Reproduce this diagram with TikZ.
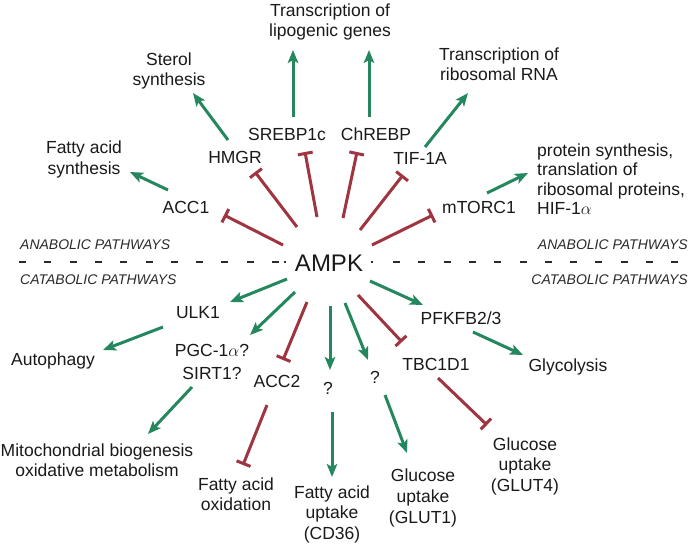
\documentclass[tikz,border=0pt]{standalone}
\usepackage{fontspec}
\setmainfont{Liberation Sans}
\usetikzlibrary{arrows.meta,calc}
\definecolor{grn}{HTML}{24875D}
\definecolor{rd}{HTML}{9E3540}
\definecolor{txt}{HTML}{1A1A1A}
\definecolor{dsh}{HTML}{2A2A2A}
\begin{document}
\begin{tikzpicture}[x=1pt,y=-1pt,
  lbl/.style={text=txt, font=\fontsize{17.5}{20.5}\selectfont, inner sep=0pt, align=center},
  lblw/.style={text=txt, inner sep=0pt, align=center, font=\fontsize{17.5}{21}\selectfont},
  big/.style={text=txt, font=\fontsize{24}{28}\selectfont, inner sep=0pt},
  pway/.style={text=dsh, font=\fontsize{14}{16}\selectfont\itshape, inner sep=0pt},
  act/.style={draw=grn, line width=3pt, -{Stealth[length=13pt,width=10.5pt,inset=3pt]}},
  inh/.style={draw=rd, line width=3pt, -{Bar[width=15pt]}},
  dashline/.style={draw=dsh, line width=1.8pt, dash pattern=on 7pt off 18.3pt}]
\fill[white] (0,0) rectangle (690,544);
\useasboundingbox (0,0) rectangle (690,544);

% central node
\node[big] (AMPK) at (329,263) {AMPK};

% separators
\draw[dashline] (19,262) -- (280,262);
\draw[draw=dsh, line width=1.8pt] (284,262) -- (286,262);
\draw[draw=dsh, line width=1.8pt] (371,262) -- (373,262);
\draw[dashline] (393,262) -- (682,262);
\node[pway, anchor=west] (anaL) at (20,245) {ANABOLIC PATHWAYS};
\node[pway, anchor=east] (anaR) at (688,245) {ANABOLIC PATHWAYS};
\node[pway, anchor=west] (catL) at (20,280) {CATABOLIC PATHWAYS};
\node[pway, anchor=east] (catR) at (688,280) {CATABOLIC PATHWAYS};

% anabolic targets
\node[lbl] (ACC1) at (186,207) {ACC1};
\node[lbl] (HMGR) at (235,157) {HMGR};
\node[lbl] (SREBP) at (287,134) {SREBP1c};
\node[lbl] (ChREBP) at (376,134) {ChREBP};
\node[lbl] (TIF) at (420,158) {TIF-1A};
\node[lbl] (mTORC) at (479,207) {mTORC1};

\node[lbl] (fas) at (84,159.3) {Fatty acid\\synthesis};
\node[lbl] (sterol) at (169,70.8) {Sterol\\synthesis};
\node[lbl] (lipo) at (330,21.8) {Transcription of\\lipogenic genes};
\node[lbl] (rRNA) at (499,64) {Transcription of\\ribosomal RNA};
\node[lbl, align=left, anchor=west, font=\fontsize{17.5}{19.5}\selectfont] (prot) at (537,179)
  {protein synthesis,\\translation of\\ribosomal proteins,\\HIF-1$\alpha$};

% catabolic targets
\node[lbl] (ULK1) at (198,313) {ULK1};
\node[lbl] (auto) at (53,361) {Autophagy};
\node[lbl, font=\fontsize{17.5}{23.5}\selectfont] (PGC) at (212,362) {PGC-1$\alpha$?\\SIRT1?};
\node[lbl] (ACC2) at (277,381) {ACC2};
\node[lbl] (q1) at (328,388) {?};
\node[lbl] (q2) at (375,377) {?};
\node[lbl] (PFK) at (461,318) {PFKFB2/3};
\node[lbl] (TBC) at (436,364) {TBC1D1};
\node[lbl] (gly) at (568,367) {Glycolysis};
\node[lbl, font=\fontsize{17.5}{20}\selectfont] (mito) at (97,460) {Mitochondrial biogenesis\\oxidative metabolism};
\node[lbl, font=\fontsize{17.5}{20}\selectfont] (faox) at (236,494) {Fatty acid\\oxidation};
\node[lbl] (fau) at (332,514.3) {Fatty acid\\uptake\\(CD36)};
\node[lblw] (glut1) at (423,498.3) {Glucose\\uptake\\(GLUT1)};
\node[lbl] (glut4) at (525,466.3) {Glucose\\uptake\\(GLUT4)};

% AMPK inhibitions (anabolic)
\draw[inh] ([shift={(-46,-18)}]AMPK.center) -- ([shift={(38,8)}]ACC1.center);
\draw[inh] ([shift={(-32,-36)}]AMPK.center) -- ([shift={(20,15)}]HMGR.center);
\draw[inh] ([shift={(-12,-46)}]AMPK.center) -- ([shift={(18,18)}]SREBP.center);
\draw[inh] ([shift={(14,-45)}]AMPK.center) -- ([shift={(-19,18)}]ChREBP.center);
\draw[inh] ([shift={(31,-33)}]AMPK.center) -- ([shift={(-17,17)}]TIF.center);
\draw[inh] ([shift={(43,-18)}]AMPK.center) -- ([shift={(-46,8)}]mTORC.center);

% anabolic outputs
\draw[act] ([shift={(-18,-17)}]ACC1.center) -- ([shift={(46,12.7)}]fas.center);
\draw[act] ([shift={(-7,-17)}]HMGR.center) -- ([shift={(24,22.2)}]sterol.center);
\draw[act] ([shift={(6,-17)}]SREBP.center) -- ([shift={(-37,28.2)}]lipo.center);
\draw[act] ([shift={(-7,-17)}]ChREBP.center) -- ([shift={(39,28.2)}]lipo.center);
\draw[act] ([shift={(5,-11)}]TIF.center) -- ([shift={(-31,29)}]rRNA.center);
\draw[act] ([shift={(8,-14)}]mTORC.center) -- ([shift={(-9,-6)}]prot.west);

% catabolic
\draw[act] ([shift={(-42,16)}]AMPK.center) -- ([shift={(32,-11)}]ULK1.center);
\draw[act] ([shift={(-34,29)}]AMPK.center) -- ([shift={(38,-27)}]PGC.center);
\draw[inh] ([shift={(-22,39)}]AMPK.center) -- ([shift={(6,-21)}]ACC2.center);
\draw[act] ([shift={(1,43)}]AMPK.center) -- ([shift={(2,-18)}]q1.center);
\draw[act] ([shift={(4,24)}]q1.center) -- ([shift={(0,-37.3)}]fau.center);
\draw[act] ([shift={(-35,14)}]ULK1.center) -- ([shift={(50,-11)}]auto.center);
\draw[act] ([shift={(-20,25)}]PGC.center) -- ([shift={(51,-26)}]mito.center);
\draw[inh] ([shift={(-10,24)}]ACC2.center) -- ([shift={(7,-29)}]faox.center);
\draw[act] ([shift={(16,40)}]AMPK.center) -- ([shift={(-7,-17)}]q2.center);
\draw[act] ([shift={(10,18)}]q2.center) -- ([shift={(-16,-45.3)}]glut1.center);
\draw[inh] ([shift={(29,32)}]AMPK.center) -- ([shift={(-34,-22)}]TBC.center);
\draw[act] ([shift={(41,18)}]AMPK.center) -- ([shift={(-38,-13)}]PFK.center);
\draw[act] ([shift={(12,14)}]PFK.center) -- ([shift={(-45,-12)}]gly.center);
\draw[inh] ([shift={(2,14)}]TBC.center) -- ([shift={(-38,-41.3)}]glut4.center);
\end{tikzpicture}
\end{document}
